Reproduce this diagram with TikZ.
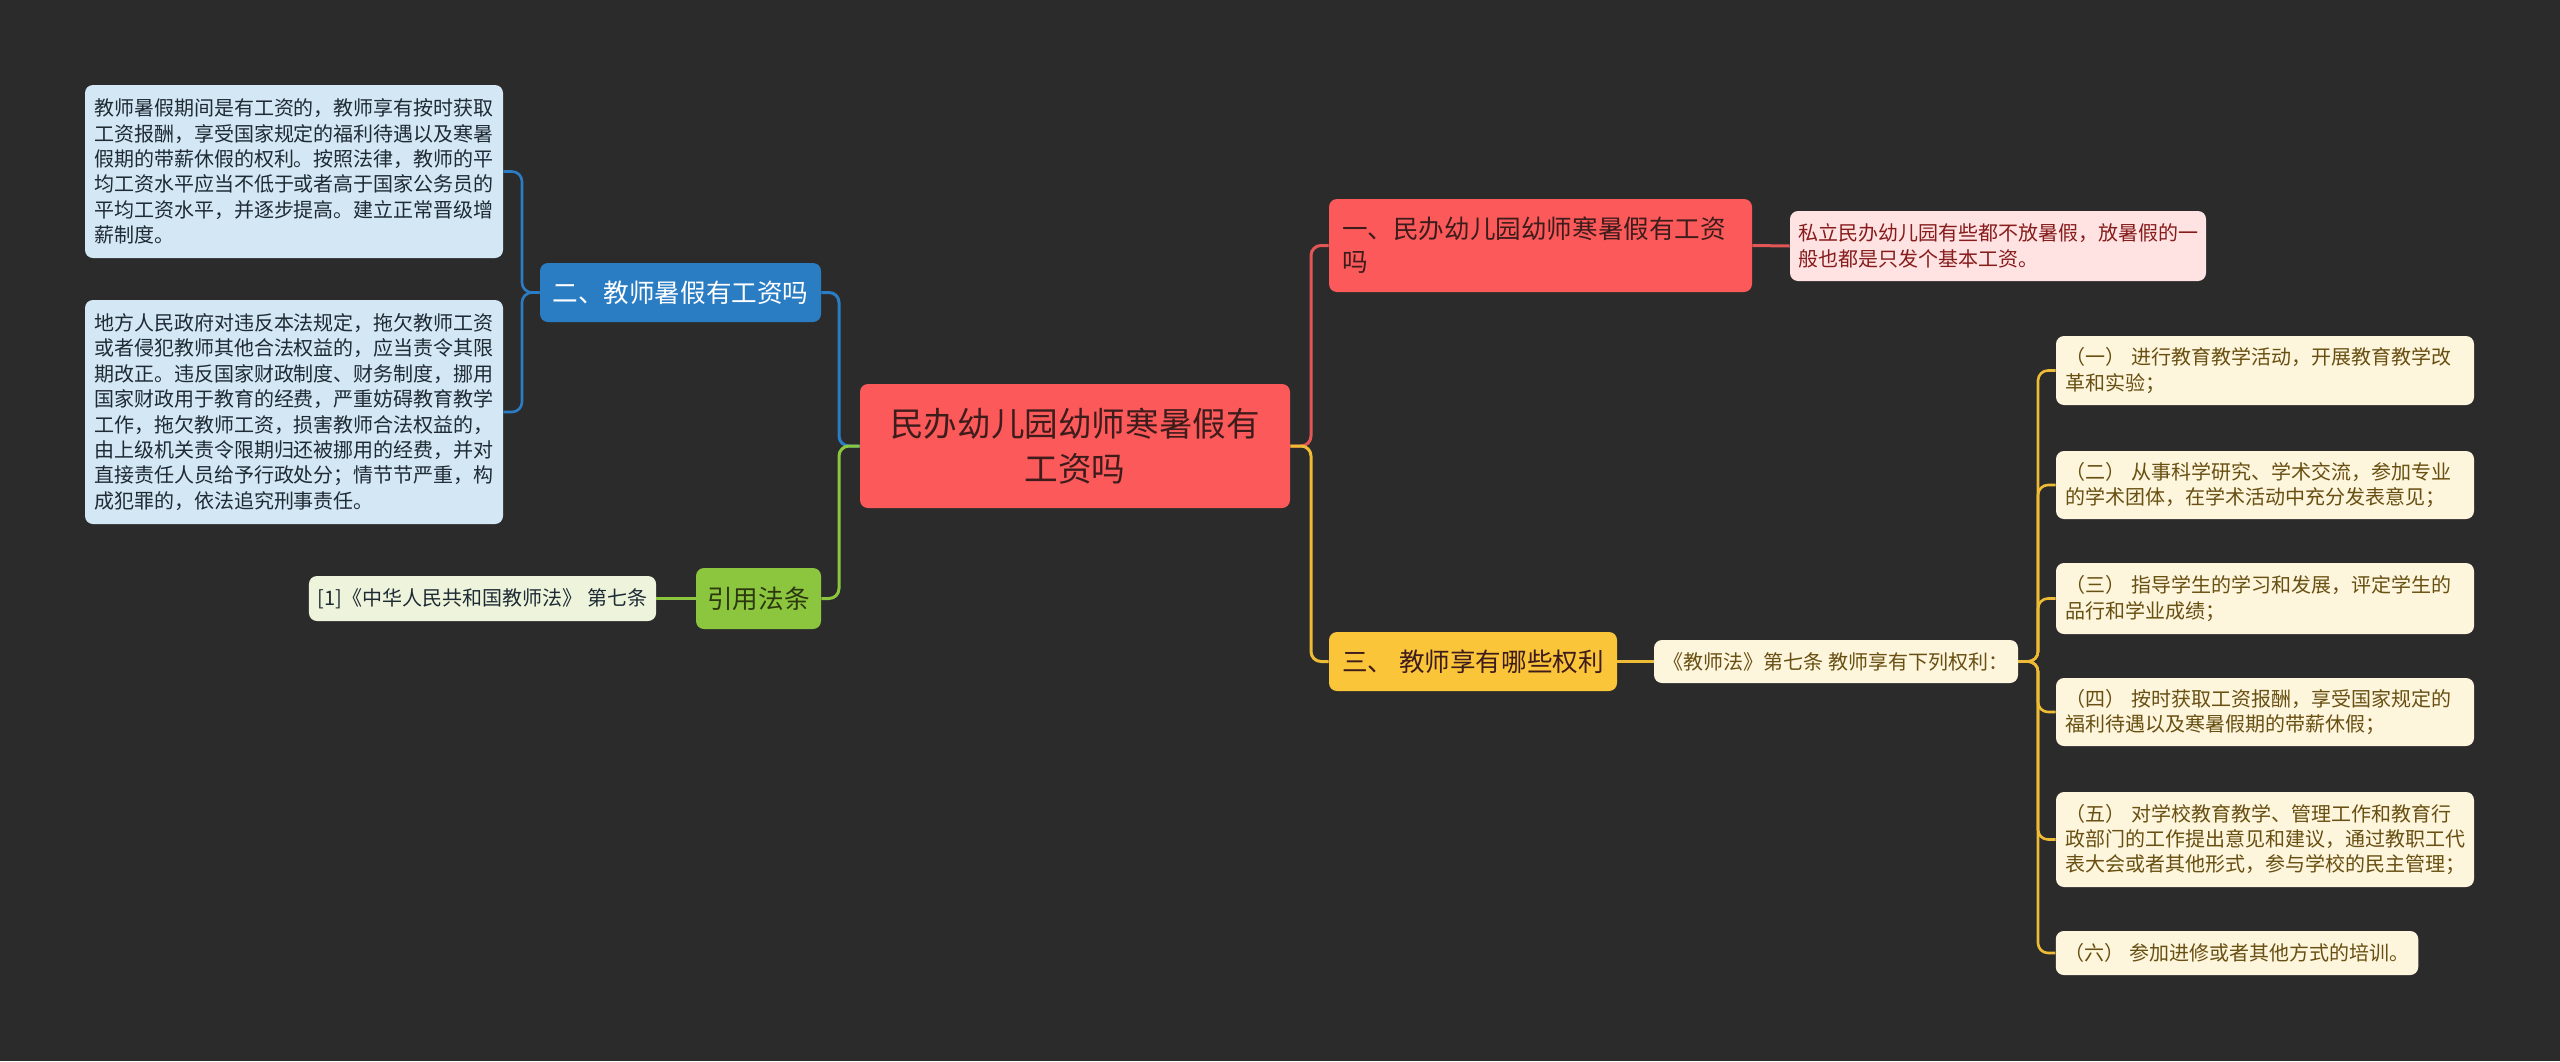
\documentclass[tikz,border=0pt]{standalone}
\usepackage{fontspec}
\setmainfont{Noto Sans CJK SC}
\definecolor{bg}{HTML}{2B2B2B}
\definecolor{rootred}{HTML}{FC5A5A}
\definecolor{roottext}{HTML}{3E1C1C}
\definecolor{redline}{HTML}{E35656}
\definecolor{pinkleaf}{HTML}{FFE2E2}
\definecolor{pinktext}{HTML}{861C1C}
\definecolor{blue}{HTML}{2A7DC3}
\definecolor{blueleaf}{HTML}{D4E7F4}
\definecolor{bluetext}{HTML}{1E2A34}
\definecolor{green}{HTML}{8CC63E}
\definecolor{greenleaf}{HTML}{EEF4DB}
\definecolor{greentext}{HTML}{2C3810}
\definecolor{yellow}{HTML}{FBC53A}
\definecolor{yline}{HTML}{EDBB35}
\definecolor{cream}{HTML}{FDF5DC}
\definecolor{browntext}{HTML}{684F12}
\newcommand\fsz[2]{\fontsize{#1}{#2}\selectfont}
\tikzset{
  box/.style={rounded corners=4pt, inner ysep=0pt},
  leaf/.style={box, inner xsep=4.5pt, align=left, font=\fsz{10}{12.7}},
  topic/.style={box, font=\fsz{12.8}{16.5}},
  conn/.style={line width=1.5pt, rounded corners=5pt},
}
\begin{document}
\begin{tikzpicture}[x=0.5pt,y=-0.5pt]
\fill[bg] (0,0) rectangle (2560,1061);
\useasboundingbox (0,0) rectangle (2560,1061);

% nodes
\node[box, fill=rootred, text=roottext, font=\fsz{16.8}{22.5}, align=center,
      text width=195pt, inner xsep=10pt, minimum height=62pt] (root) at (1075,446)
  {民办幼儿园幼师寒暑假有\\工资吗};

\node[topic, fill=rootred, text=roottext, align=left, text width=198.5pt, inner xsep=6.5pt,
      minimum height=46.5pt] (n1) at (1540.5,245.5)
  {一、民办幼儿园幼师寒暑假有工资\\吗};
\node[leaf, fill=pinkleaf, text=pinktext, text width=200pt, inner xsep=4pt,
      minimum height=35pt] (pv) at (1998,246)
  {私立民办幼儿园有些都不放暑假，放暑假的一\\般也都是只发个基本工资。};

\node[topic, fill=blue, text=white, minimum width=140.5pt, minimum height=29.5pt] (n2) at (680.5,292.5)
  {二、教师暑假有工资吗};
\node[leaf, fill=blueleaf, text=bluetext, text width=200pt, minimum height=86.5pt] (b1) at (294,171.5)
  {教师暑假期间是有工资的，教师享有按时获取\\工资报酬，享受国家规定的福利待遇以及寒暑\\假期的带薪休假的权利。按照法律，教师的平\\均工资水平应当不低于或者高于国家公务员的\\平均工资水平，并逐步提高。建立正常晋级增\\薪制度。};
\node[leaf, fill=blueleaf, text=bluetext, text width=200pt, minimum height=112pt] (b2) at (294,412)
  {地方人民政府对违反本法规定，拖欠教师工资\\或者侵犯教师其他合法权益的，应当责令其限\\期改正。违反国家财政制度、财务制度，挪用\\国家财政用于教育的经费，严重妨碍教育教学\\工作，拖欠教师工资，损害教师合法权益的，\\由上级机关责令限期归还被挪用的经费，并对\\直接责任人员给予行政处分；情节节严重，构\\成犯罪的，依法追究刑事责任。};

\node[topic, fill=green, text=greentext, minimum width=62.5pt, minimum height=30.5pt] (cite) at (758.5,598.5)
  {引用法条};
\node[leaf, fill=greenleaf, text=bluetext, align=center, minimum width=173.5pt, minimum height=22.5pt] (ref) at (482.5,598.5)
  {[1]《中华人民共和国教师法》 第七条};

\node[topic, fill=yellow, text=roottext, minimum width=144pt, minimum height=29.5pt] (n3) at (1473,661.5)
  {三、 教师享有哪些权利};
\node[leaf, fill=cream, text=browntext, align=center, minimum width=182pt, minimum height=21.5pt] (law) at (1836,661.5)
  {《教师法》第七条 教师享有下列权利：};

\node[leaf, fill=cream, text=browntext, text width=200pt, minimum height=34.5pt] (r1) at (2265,370.5)
  {（一） 进行教育教学活动，开展教育教学改\\革和实验；};
\node[leaf, fill=cream, text=browntext, text width=200pt, minimum height=34pt] (r2) at (2265,485)
  {（二） 从事科学研究、学术交流，参加专业\\的学术团体，在学术活动中充分发表意见；};
\node[leaf, fill=cream, text=browntext, text width=200pt, minimum height=35.5pt] (r3) at (2265,598.5)
  {（三） 指导学生的学习和发展，评定学生的\\品行和学业成绩；};
\node[leaf, fill=cream, text=browntext, text width=200pt, minimum height=34pt] (r4) at (2265,712)
  {（四） 按时获取工资报酬，享受国家规定的\\福利待遇以及寒暑假期的带薪休假；};
\node[leaf, fill=cream, text=browntext, text width=200pt, minimum height=47.5pt] (r5) at (2265,839.5)
  {（五） 对学校教育教学、管理工作和教育行\\政部门的工作提出意见和建议，通过教职工代\\表大会或者其他形式，参与学校的民主管理；};
\node[leaf, fill=cream, text=browntext, align=center, minimum width=181pt, minimum height=22pt] (r6) at (2237,953)
  {（六） 参加进修或者其他方式的培训。};

% junctions
\coordinate (jR) at (1311,446);
\coordinate (jL) at (839,446);
\coordinate (jB) at (522,292.5);
\coordinate (jY) at (2038,661.5);

% connectors
\draw[conn, redline] (root.east) -- (jR) |- (n1.west);
\draw[conn, yline] (root.east) -- (jR) |- (n3.west);
\draw[conn, blue] (root.west) -- (jL) |- (n2.east);
\draw[conn, green] (root.west) -- (jL) |- (cite.east);

\draw[conn, redline] (n1.east) -- (pv.west);
\draw[conn, yline] (n3.east) -- (law.west);
\draw[conn, green] (cite.west) -- (ref.east);

\draw[conn, blue, line width=1.3pt] (n2.west) -- (jB) |- (b1.east);
\draw[conn, blue, line width=1.3pt] (n2.west) -- (jB) |- (b2.east);

\foreach \r in {r1,r2,r3,r4,r5,r6}
  \draw[conn, yline, line width=1.3pt] (law.east) -- (jY) |- (\r.west);
\end{tikzpicture}
\end{document}
